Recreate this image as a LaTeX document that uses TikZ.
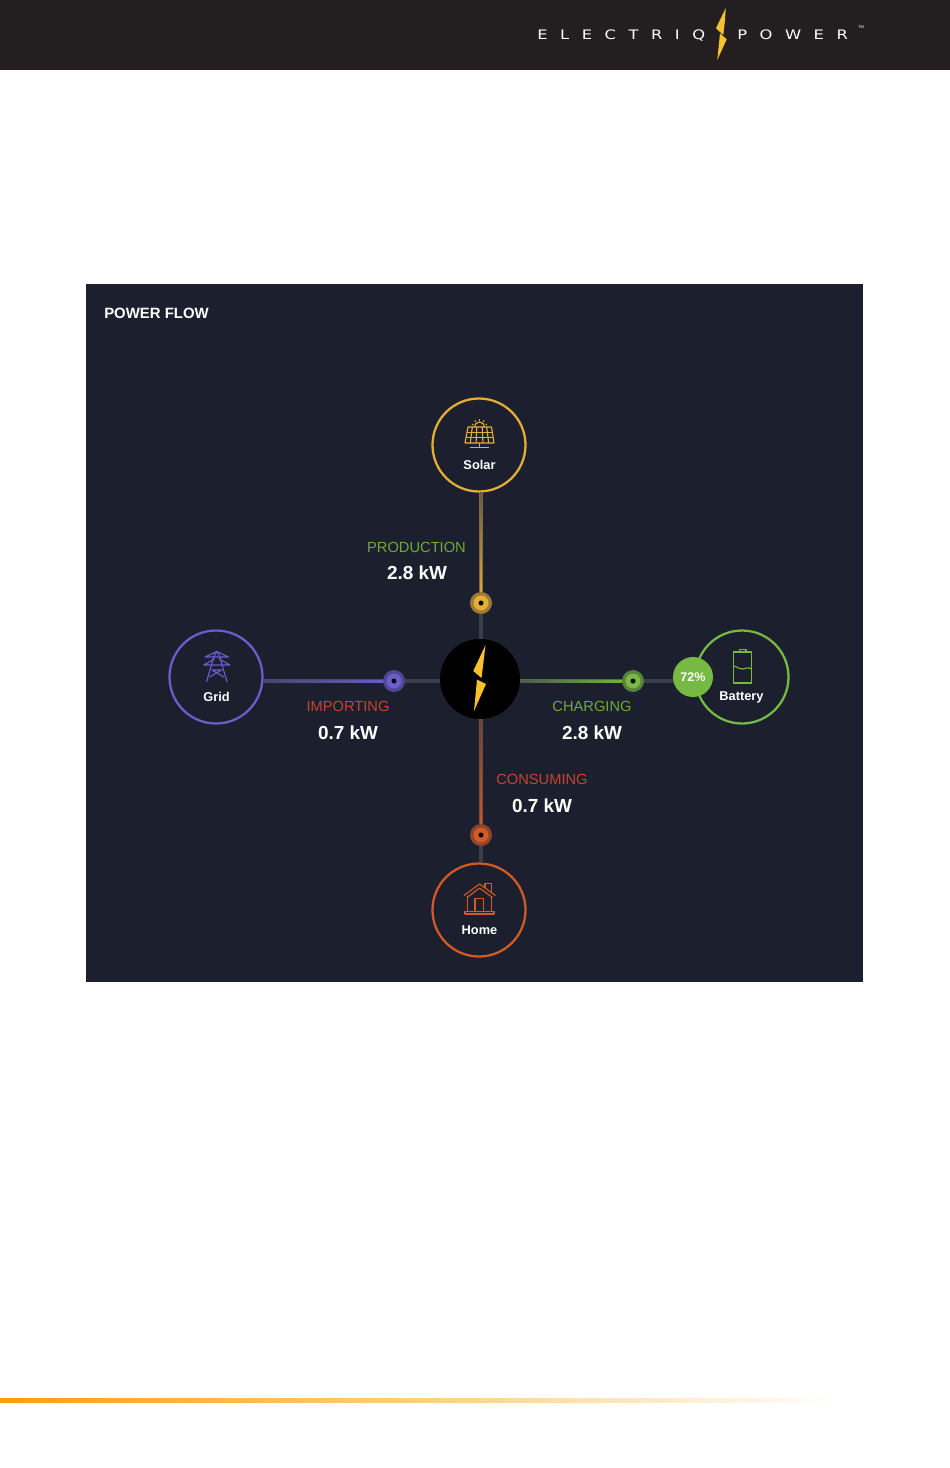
\documentclass[tikz,border=0pt]{standalone}
\usepackage{fontspec}
\setmainfont{Liberation Sans}
\newfontfamily\logofont[LetterSpace=96,FakeStretch=1.25]{DejaVu Sans}
\usepackage{tikz}
\usetikzlibrary{arrows,shapes,calc}
\definecolor{topbar}{HTML}{231F20}
\definecolor{panel}{HTML}{1B1F2E}
\definecolor{idle}{HTML}{3B3E4A}
\definecolor{solarcol}{HTML}{E5AD35}
\definecolor{gridcol}{HTML}{6E5CCB}
\definecolor{batterycol}{HTML}{76B943}
\definecolor{homecol}{HTML}{D25A27}
\definecolor{goodtext}{HTML}{6EAA3D}
\definecolor{badtext}{HTML}{C5452D}
\definecolor{boltcol}{HTML}{F7C02E}
\tikzstyle{vertex}=[circle,draw,fill=panel,line width=1.7pt,minimum size=69.75pt,inner sep=0pt]
\tikzstyle{dotnode}=[circle,minimum size=15.5pt,inner sep=0pt]
\tikzstyle{edge} = [draw,line width=2.4pt,-]
\tikzstyle{idleedge} = [draw=idle,line width=2.6pt,-]
\tikzstyle{logotext}=[anchor=base west,text=white,inner sep=0pt,font=\logofont\fontsize{9.8}{11}\selectfont]
\tikzstyle{caption}=[text=white,font=\bfseries\fontsize{9.6}{10}\selectfont,inner sep=0pt]
\tikzstyle{flowname}=[font=\fontsize{11}{12}\selectfont,inner sep=0pt]
\tikzstyle{flowvalue}=[text=white,font=\bfseries\fontsize{14.2}{15}\selectfont,inner sep=0pt]
\tikzstyle{icon}=[line width=0.85pt,line join=round]
\begin{document}
\begin{tikzpicture}[x=0.75pt,y=-0.75pt]
    \useasboundingbox (0,0) rectangle (950,1468);
    % First we draw the page: header, panel and the fading rule
    \fill[white] (0,0) rectangle (950,1468);
    \fill[topbar] (0,0) rectangle (950,70);
    \fill[panel] (86,284) rectangle (863,982);
    \shade[left color=orange!75!yellow,right color=white] (0,1398) rectangle (840,1402);

    % Logo of the header
    \node[logotext] (logoleft) at (537,39) {ELECTRIQ};
    \node[logotext] (logoright) at (737,39) {POWER};
    \node[anchor=west,text=white,inner sep=0pt,font=\fontsize{3}{3}\selectfont] (logotm) at (858,27) {TM};
    \fill[boltcol] (725.7,8) -- (716,28.3) -- (723.3,35) -- (725,20) -- cycle;
    \fill[boltcol] (726.7,39.3) -- (720,33.3) -- (717.3,60) -- cycle;

    \node[anchor=west,text=white,inner sep=0pt,font=\bfseries\fontsize{11.2}{12}\selectfont] (title) at (104,313) {POWER FLOW};

    % Then the vertices
    \foreach \pos/\name/\col in {{(479,445)/solar/solarcol}, {(216,677)/grid/gridcol}, {(742,677)/battery/batterycol}, {(479,910)/home/homecol}}
        \node[vertex,draw=\col] (\name) at \pos {};
    \node[circle,fill=black,minimum size=60pt,inner sep=0pt] (hub) at (480,679) {};

    % The dots on the lines
    \foreach \pos/\name/\col in {{(481,603)/soldot/solarcol}, {(394,681)/griddot/gridcol}, {(633,681)/batdot/batterycol}, {(481,835)/homedot/homecol}}
        \node[dotnode,fill=\col!70!panel] (\name) at \pos {};

    % Connect vertices with edges
    \path[idleedge] (soldot) -- (soldot |- hub.north);
    \path[idleedge] (griddot) -- (griddot -| hub.west);
    \path[idleedge] (batdot) -- (batdot -| battery.west);
    \path[idleedge] (homedot) -- (homedot |- home.north);
    \path[edge,draw=solarcol!40!idle] (solar.south -| soldot) -- (soldot);
    \path[edge,draw=gridcol!40!idle] (griddot -| grid.east) -- (griddot);
    \path[edge,draw=batterycol!40!idle] (batdot -| hub.east) -- (batdot);
    \path[edge,draw=homecol!40!idle] (homedot |- hub.south) -- (homedot);
    \shade[top color=solarcol!25!idle,bottom color=solarcol] ($(solar.south -| soldot)+(-1,0)$) rectangle ($(soldot)+(1,0)$);
    \shade[left color=gridcol!25!idle,right color=gridcol] ($(griddot -| grid.east)+(0,-1)$) rectangle ($(griddot)+(0,1)$);
    \shade[left color=batterycol!25!idle,right color=batterycol] ($(batdot -| hub.east)+(0,-1)$) rectangle ($(batdot)+(0,1)$);
    \shade[top color=homecol!25!idle,bottom color=homecol] ($(homedot |- hub.south)+(-1,0)$) rectangle ($(homedot)+(1,0)$);

    % Dots again, so that they stay over the lines
    \foreach \name/\col in {soldot/solarcol, griddot/gridcol, batdot/batterycol, homedot/homecol} {
        \fill[\col!65!panel] (\name) circle (11);
        \fill[\col] (\name) circle (7.5);
        \fill[black!85!panel] (\name) circle (2.5);
    }

    % Bolt in the middle
    \fill[boltcol] (485.5,645) -- (473.3,671) -- (481.5,678) -- (483.5,662) -- cycle;
    \fill[boltcol] (486,684) -- (477,679.5) -- (474,711) -- cycle;

    % Badge of the battery
    \node[circle,fill=batterycol,text=white,minimum size=30pt,inner sep=0pt,font=\bfseries\fontsize{9.4}{10}\selectfont] (badge) at (693,677) {72\%};

    % Icons
    \begin{scope}[icon,draw=solarcol]
        \draw (468,427) -- (491.5,427) -- (494,443) -- (465,443) -- cycle;
        \draw (467,432.3) -- (492.5,432.3) (466,437.6) -- (493.4,437.6);
        \foreach \x in {-8,-3,3,8}
            \draw ({479.5+\x*0.9},427) -- ({479.5+\x*1.15},443);
        \draw (474.5,427) arc (180:360:5);
        \draw (479.5,443) -- (479.5,447) (470,447.5) -- (489,447.5);
        \foreach \a in {200,235,270,305,340}
            \draw ($(479.5,427)+(\a:6.5)$) -- ($(479.5,427)+(\a:8)$);
    \end{scope}
    \begin{scope}[icon,draw=gridcol]
        \draw (206.5,682) -- (214,656) -- (216.7,651.5) -- (219.5,656) -- (227,682);
        \draw (205,657) -- (216.7,651.5) -- (228.5,657) -- cycle;
        \draw (203.5,665) -- (230,665) -- (219,659) (203.5,665) -- (214.5,659);
        \draw (212,670) -- (224,677) (221.5,670) -- (209.5,677) (211.5,670) -- (222,670);
    \end{scope}
    \begin{scope}[icon,draw=batterycol]
        \draw (733.5,652) rectangle (751.5,683);
        \draw (739.5,652) -- (739.5,649.5) -- (746,649.5) -- (746,652);
        \draw (733.5,666) .. controls (739,667) and (739,670) .. (743,669) .. controls (747,668) and (748,667) .. (751.5,669);
    \end{scope}
    \begin{scope}[icon,draw=homecol]
        \draw (464,895.5) -- (479.5,884) -- (495.5,895.5) (467,897.5) -- (479.5,888) -- (492.5,897.5);
        \draw (485,887.5) -- (485,883.5) -- (491.5,883.5) -- (491.5,892);
        \draw (467.5,896) -- (467.5,911.5) (491.5,896) -- (491.5,911.5);
        \draw (475,911.5) -- (475,898.5) -- (483.5,898.5) -- (483.5,911.5);
        \draw (465,911.5) -- (494,911.5) -- (494,914) -- (465,914) -- cycle;
    \end{scope}

    % Texts
    \foreach \pos/\name/\txt in {{(479.5,464.5)/solarname/Solar}, {(216.5,697)/gridname/Grid}, {(741.5,697)/batteryname/Battery}, {(479.5,930)/homename/Home}}
        \node[caption] (\name) at \pos {\txt};
    \foreach \pos/\name/\col/\txt in {{(416.5,547)/prodname/goodtext/PRODUCTION}, {(348,706)/impname/badtext/IMPORTING}, {(592,706)/chargename/goodtext/CHARGING}, {(542,779)/consname/badtext/CONSUMING}}
        \node[flowname,text=\col] (\name) at \pos {\txt};
    \foreach \pos/\name/\txt in {{(417,573)/prodvalue/2.8 kW}, {(348,732.5)/impvalue/0.7 kW}, {(592,732.5)/chargevalue/2.8 kW}, {(542,805.5)/consvalue/0.7 kW}}
        \node[flowvalue] (\name) at \pos {\txt};
\end{tikzpicture}
\end{document}
